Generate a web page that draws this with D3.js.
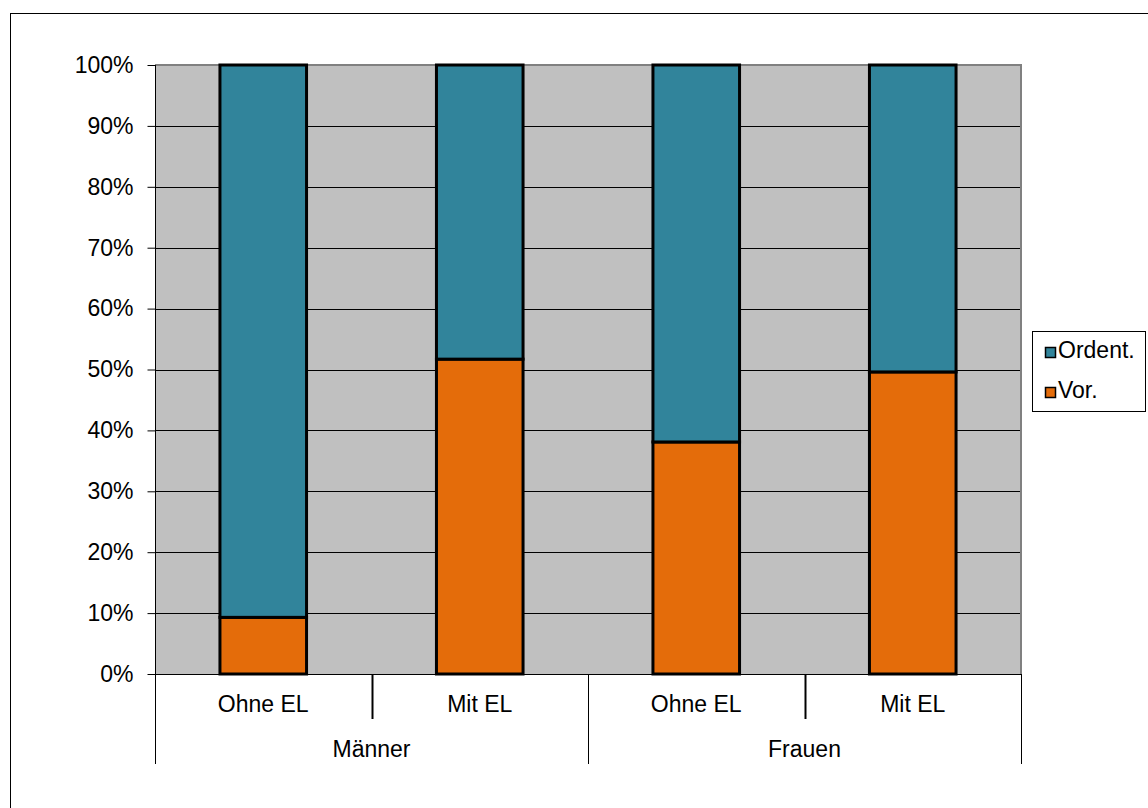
<!DOCTYPE html>
<html>
<head>
<meta charset="utf-8">
<script src="https://cdn.jsdelivr.net/npm/d3@7"></script>
<style>
  html, body { margin: 0; padding: 0; background: #fff; }
  svg { display: block; font-family: "Liberation Sans", Arial, sans-serif; }
</style>
</head>
<body>
<svg id="chart" width="1148" height="808"></svg>
<script>
const categories = ["Ohne EL", "Mit EL", "Ohne EL", "Mit EL"];
const groups = ["Männer", "Frauen"];
const seriesNames = ["Vor.", "Ordent."];
const vorValues = [0.093, 0.517, 0.381, 0.496];
const ordentValues = [0.907, 0.483, 0.619, 0.504];
const yTicks = [0, 0.1, 0.2, 0.3, 0.4, 0.5, 0.6, 0.7, 0.8, 0.9, 1.0];
const colors = { "Vor.": "#E46C0A", "Ordent.": "#31849B" };

const svg = d3.select("#chart");
const plot = { left: 155, right: 1021, top: 65, bottom: 674 };

// outer frame
svg.append("rect").attr("x", 10.5).attr("y", 13.5).attr("width", 1200).attr("height", 900)
  .attr("fill", "none").attr("stroke", "#000").attr("stroke-width", 1);

const idx = categories.map((c, i) => i);
const x = d3.scaleBand().domain(idx).range([plot.left, plot.right]).paddingInner(0.6).paddingOuter(0.3);
const slot = d3.scaleBand().domain(idx).range([plot.left, plot.right]);
const groupScale = d3.scaleBand().domain(groups).range([plot.left, plot.right]);
const y = d3.scaleLinear().domain([0, 1]).range([plot.bottom, plot.top]);

// plot background
svg.append("rect").attr("x", plot.left).attr("y", plot.top)
  .attr("width", plot.right - plot.left).attr("height", plot.bottom - plot.top)
  .attr("fill", "#C0C0C0");

// gridlines
svg.append("g").selectAll("line").data(yTicks.filter(t => t > 0 && t < 1)).join("line")
  .attr("x1", plot.left).attr("x2", plot.right)
  .attr("y1", d => Math.round(y(d)) + 0.5).attr("y2", d => Math.round(y(d)) + 0.5)
  .attr("stroke", "#000").attr("stroke-width", 1);

// top and right plot border (gray)
svg.append("line").attr("x1", plot.left).attr("x2", plot.right + 1)
  .attr("y1", plot.top).attr("y2", plot.top).attr("stroke", "#808080").attr("stroke-width", 2);
svg.append("line").attr("x1", plot.right).attr("x2", plot.right)
  .attr("y1", plot.top).attr("y2", plot.bottom).attr("stroke", "#808080").attr("stroke-width", 2);

// stacked bars
const rows = idx.map(i => ({ i, "Vor.": vorValues[i], "Ordent.": ordentValues[i] }));
const stacked = d3.stack().keys(seriesNames)(rows);
const layers = svg.append("g").selectAll("g").data(stacked).join("g")
  .attr("fill", d => colors[d.key]);
layers.selectAll("rect").data(d => d).join("rect")
  .attr("x", d => x(d.data.i))
  .attr("width", x.bandwidth())
  .attr("y", d => y(d[1]))
  .attr("height", d => y(d[0]) - y(d[1]))
  .attr("stroke", "#000").attr("stroke-width", 3);

// y axis
const yAxis = d3.axisLeft(y).tickValues(yTicks).tickFormat(d3.format(".0%")).tickSize(8).tickPadding(14);
const ya = svg.append("g").attr("transform", `translate(${plot.left + 0.5},0)`).call(yAxis);
ya.select(".domain").remove();
ya.selectAll(".tick line").attr("stroke", "#000");
ya.selectAll(".tick text").attr("font-size", 23).attr("fill", "#000")
  .attr("font-family", "'Liberation Sans', Arial, sans-serif");
svg.append("line").attr("x1", plot.left + 0.5).attr("x2", plot.left + 0.5)
  .attr("y1", plot.top).attr("y2", 764).attr("stroke", "#000");

// x axis baseline
svg.append("line").attr("x1", plot.left).attr("x2", plot.right + 1)
  .attr("y1", plot.bottom + 0.5).attr("y2", plot.bottom + 0.5).attr("stroke", "#000");

// category dividers within groups
const innerDiv = [1, 3].map(i => slot(i));
svg.append("g").selectAll("line").data(innerDiv).join("line")
  .attr("x1", d => Math.round(d) + 0.5).attr("x2", d => Math.round(d) + 0.5)
  .attr("y1", plot.bottom).attr("y2", 719).attr("stroke", "#000").attr("stroke-width", 2);
// group dividers
const groupDiv = [groupScale("Frauen"), plot.right];
svg.append("g").selectAll("line").data(groupDiv).join("line")
  .attr("x1", d => Math.round(d) + 0.5).attr("x2", d => Math.round(d) + 0.5)
  .attr("y1", plot.bottom).attr("y2", 764).attr("stroke", "#000").attr("stroke-width", 1);

// category labels
svg.append("g").selectAll("text").data(idx).join("text")
  .attr("x", i => slot(i) + slot.bandwidth() / 2)
  .attr("y", 712)
  .attr("text-anchor", "middle").attr("font-size", 23).attr("fill", "#000")
  .text(i => categories[i]);
// group labels
svg.append("g").selectAll("text").data(groups).join("text")
  .attr("x", g => groupScale(g) + groupScale.bandwidth() / 2)
  .attr("y", 757)
  .attr("text-anchor", "middle").attr("font-size", 23).attr("fill", "#000")
  .text(g => g);

// legend
const legend = svg.append("g");
legend.append("rect").attr("x", 1032.5).attr("y", 331.5).attr("width", 113).attr("height", 80)
  .attr("fill", "#fff").attr("stroke", "#000").attr("stroke-width", 1);
const legendItems = ["Ordent.", "Vor."];
const li = legend.selectAll("g.item").data(legendItems).join("g").attr("class", "item")
  .attr("transform", (d, i) => `translate(1045, ${347 + i * 40})`);
li.append("rect").attr("x", 0.5).attr("y", 0.5).attr("width", 10).attr("height", 10)
  .attr("fill", d => colors[d]).attr("stroke", "#000").attr("stroke-width", 1.5);
li.append("text").attr("x", 13).attr("y", 10.5).attr("font-size", 23).attr("fill", "#000")
  .text(d => d);
</script>
</body>
</html>
